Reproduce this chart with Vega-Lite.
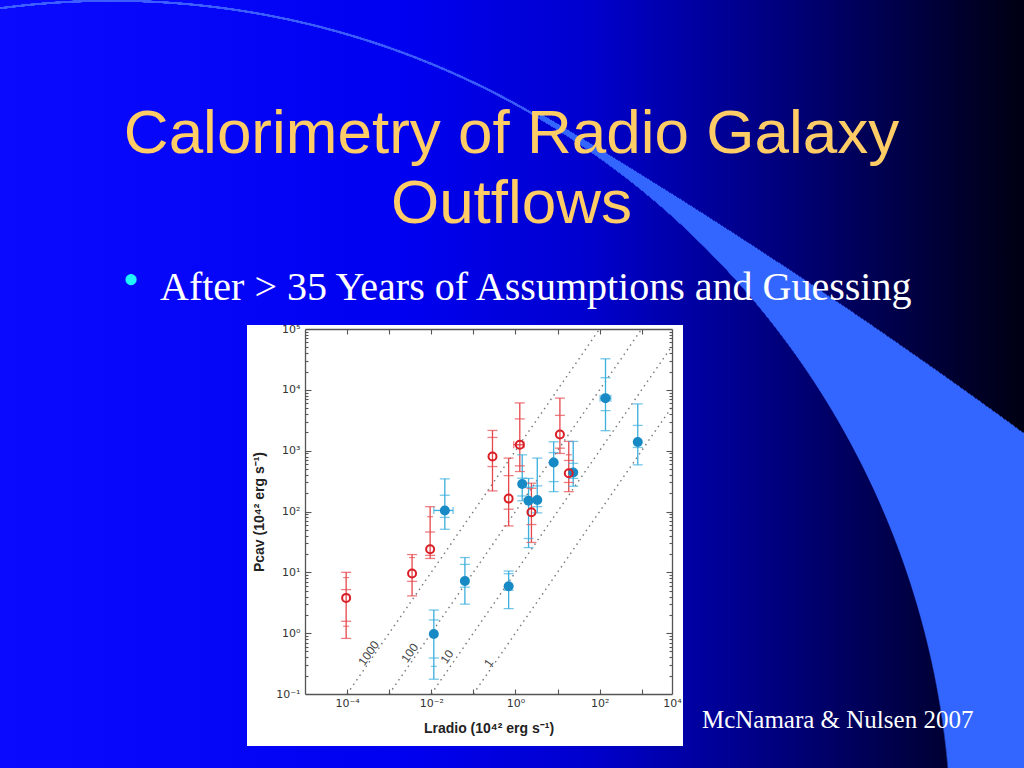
{
  "$schema": "https://vega.github.io/schema/vega-lite/v6.json",
  "width": 367,
  "height": 365,
  "autosize": {"type": "none"},
  "padding": {"left": 305, "top": 329, "right": 352, "bottom": 74},
  "background": "#0000e6",
  "title": {
    "text": ["Calorimetry of Radio Galaxy", "Outflows"],
    "anchor": "middle",
    "orient": "top",
    "offset": -236,
    "dx": 23,
    "font": "Liberation Sans",
    "fontSize": 62,
    "fontWeight": "normal",
    "color": "#ffcc66",
    "lineHeight": 70
  },
  "config": {
    "view": {"stroke": null},
    "axis": {
      "grid": false,
      "domainColor": "#555555",
      "domainWidth": 1.3,
      "tickColor": "#555555",
      "tickWidth": 1.1,
      "labelFont": "DejaVu Sans",
      "labelFontSize": 11,
      "labelColor": "#333333",
      "titleFont": "Liberation Sans",
      "titleFontSize": 14,
      "titleFontWeight": "bold",
      "titleColor": "#222222",
      "labelFlush": false,
      "labelOverlap": false
    }
  },
  "datasets": {
    "pts": [
      {"s": "r", "x": 0.000095, "y": 3.8, "lo": 0.82, "hi": 10, "lo2": 1.57, "hi2": 5.2, "lo3": 1.3, "hi3": 8.2},
      {"s": "r", "x": 0.0035, "y": 9.6, "lo": 4.1, "hi": 19.6, "lo2": 7.1, "hi3": 17.5},
      {"s": "r", "x": 0.0094, "y": 24, "lo": 16.9, "hi": 120, "lo2": 19, "hi2": 46, "hi3": 82},
      {"s": "r", "x": 0.285, "y": 800, "lo": 218, "hi": 2150, "lo2": 548, "hi2": 1650},
      {"s": "r", "x": 0.69, "y": 163, "lo": 58, "hi": 754, "lo2": 109, "hi2": 389},
      {"s": "r", "x": 1.27, "y": 1250, "lo": 454, "hi": 6100, "lo2": 563, "hi2": 3330, "xlo": 0.91, "xhi": 1.6},
      {"s": "r", "x": 2.4, "y": 97, "lo": 31, "hi": 292, "lo2": 61, "hi2": 241},
      {"s": "r", "x": 11.4, "y": 1850, "lo": 900, "hi": 7300, "lo2": 1100, "hi2": 3800},
      {"s": "r", "x": 18.5, "y": 426, "lo": 212, "hi": 1420, "lo2": 300, "hi2": 690, "hi3": 856},
      {"s": "b", "x": 0.0115, "y": 0.97, "lo": 0.175, "hi": 2.4, "lo2": 0.39, "hi2": 1.65, "lo3": 0.285},
      {"s": "b", "x": 0.021, "y": 104, "lo": 51, "hi": 344, "lo2": 80, "hi2": 185, "xlo": 0.0115, "xhi": 0.033},
      {"s": "b", "x": 0.063, "y": 7.2, "lo": 3.0, "hi": 17.5, "lo2": 5.7, "hi2": 13.5},
      {"s": "b", "x": 0.69, "y": 5.9, "lo": 2.53, "hi": 10.5, "lo2": 5.07, "hi2": 9.5},
      {"s": "b", "x": 1.45, "y": 283, "lo": 150, "hi": 855, "lo2": 180, "hi2": 353},
      {"s": "b", "x": 2.05, "y": 150, "lo": 25.5, "hi": 350, "lo2": 36, "hi2": 250},
      {"s": "b", "x": 3.3, "y": 155, "lo": 95, "hi": 755, "lo2": 120, "hi2": 264},
      {"s": "b", "x": 8.1, "y": 640, "lo": 212, "hi": 1400, "lo2": 310, "hi2": 930},
      {"s": "b", "x": 23.6, "y": 437, "lo": 260, "hi": 1420, "lo2": 350, "hi2": 620},
      {"s": "b", "x": 138, "y": 7300, "lo": 2130, "hi": 32400, "lo2": 4550, "hi2": 15800, "xlo": 103, "xhi": 185},
      {"s": "b", "x": 807, "y": 1387, "lo": 585, "hi": 5870, "lo2": 1130, "hi2": 2600}
    ],
    "dl": [
      {"k": "1000", "x": 0.0001, "y": 0.1}, {"k": "1000", "x": 100, "y": 100000},
      {"k": "100", "x": 0.001, "y": 0.1}, {"k": "100", "x": 1000, "y": 100000},
      {"k": "10", "x": 0.01, "y": 0.1}, {"k": "10", "x": 5250, "y": 52500},
      {"k": "1", "x": 0.1, "y": 0.1}, {"k": "1", "x": 5250, "y": 5250}
    ],
    "lab": [
      {"t": "1000", "x": 0.000326, "y": 0.467},
      {"t": "100", "x": 0.00308, "y": 0.472},
      {"t": "10", "x": 0.0237, "y": 0.41},
      {"t": "1", "x": 0.231, "y": 0.323}
    ]
  },
  "resolve": {"axis": {"x": "independent", "y": "independent"}},
  "layer": [
    {
      "data": {"values": [{}]},
      "mark": {"type": "rect", "fill": {"gradient": "linear", "x1": 0, "y1": 0, "x2": 1, "y2": 0, "stops": [
        {"offset": 0, "color": "#0a0aff"}, {"offset": 0.4, "color": "#0000f0"}, {"offset": 0.58, "color": "#0000cc"},
        {"offset": 0.7, "color": "#000098"}, {"offset": 0.85, "color": "#000055"}, {"offset": 1, "color": "#000012"}]}},
      "encoding": {
        "x": {"datum": 5.662e-13, "type": "quantitative", "scale": {"type": "log", "domain": [0.00001, 5250], "nice": false},
          "axis": {"orient": "bottom", "zindex": 5, "values": [0.0001, 0.01, 1, 100, 5250],
            "labelExpr": "datum.value < 0.001 ? '10⁻⁴' : datum.value < 0.1 ? '10⁻²' : datum.value < 10 ? '10⁰' : datum.value < 1000 ? '10²' : '10⁴'",
            "ticks": false, "tickSize": 0, "labelPadding": 3, "domain": true, "title": "Lradio (10⁴² erg s⁻¹)", "titlePadding": 13}},
        "x2": {"datum": 1.2127e12},
        "y": {"datum": 2.5624e10, "type": "quantitative", "scale": {"type": "log", "domain": [0.1, 100000], "nice": false},
          "axis": {"orient": "left", "zindex": 5, "values": [0.1, 1, 10, 100, 1000, 10000, 100000],
            "labelExpr": "datum.value < 0.5 ? '10⁻¹' : datum.value < 5 ? '10⁰' : datum.value < 50 ? '10¹' : datum.value < 500 ? '10²' : datum.value < 5000 ? '10³' : datum.value < 50000 ? '10⁴' : '10⁵'",
            "ticks": false, "tickSize": 0, "labelPadding": 5, "domain": true, "title": "Pcav (10⁴² erg s⁻¹)", "titlePadding": 9}},
        "y2": {"datum": 0.006069}
      }
    },
    {
      "data": {"values": [{}]},
      "mark": {"type": "rect", "fill": {"gradient": "radial", "x1": 0.1094, "y1": 0.9453, "r1": 0.8184, "x2": -2.4666, "y2": 5.2756, "r2": 5.8623, "stops": [
        {"offset": 0, "color": "rgba(51,102,255,0)"}, {"offset": 0.0008, "color": "#3366ff"},
        {"offset": 0.9992, "color": "#3366ff"}, {"offset": 1, "color": "rgba(51,102,255,0)"}]}},
      "encoding": {
        "x": {"datum": 5.662e-13, "type": "quantitative", "scale": {"type": "log", "domain": [0.00001, 5250], "nice": false},
          "axis": {"orient": "bottom", "zindex": 5, "values": [0.0001, 0.001, 0.01, 0.1, 1, 10, 100, 1000], "tickSize": -5, "labels": false, "domain": false, "title": null}},
        "x2": {"datum": 1.2127e12},
        "y": {"datum": 2.5624e10, "type": "quantitative", "scale": {"type": "log", "domain": [0.1, 100000], "nice": false},
          "axis": {"orient": "left", "zindex": 5, "values": [1, 10, 100, 1000, 10000], "tickSize": -6, "labels": false, "domain": false, "title": null}},
        "y2": {"datum": 0.006069}
      }
    },
    {
      "data": {"values": [{}]},
      "mark": {"type": "rect", "fill": {"gradient": "linear", "x1": 0, "y1": 0, "x2": 1, "y2": 0, "stops": [
        {"offset": 0, "color": "#0a0aff"}, {"offset": 0.7585, "color": "#0000f0"}, {"offset": 1, "color": "#0000d6"}]}},
      "encoding": {
        "x": {"datum": 5.662e-13, "type": "quantitative", "scale": {"type": "log", "domain": [0.00001, 5250], "nice": false}, "axis": null},
        "x2": {"datum": 3.836},
        "y": {"datum": 2.5624e10, "type": "quantitative", "scale": {"type": "log", "domain": [0.1, 100000], "nice": false}, "axis": null},
        "y2": {"datum": 0.006069}
      }
    },
    {
      "data": {"values": [{}]},
      "mark": {"type": "rect", "fill": {"gradient": "radial", "x1": 0.29427, "y1": 1.09375, "r1": 1.09115, "x2": 0.29427, "y2": 1.09375, "r2": 1.0944, "stops": [
        {"offset": 0, "color": "rgba(70,110,255,0)"}, {"offset": 0.05, "color": "rgba(70,110,255,0.85)"},
        {"offset": 0.95, "color": "rgba(70,110,255,0.85)"}, {"offset": 1, "color": "rgba(70,110,255,0)"}]}},
      "encoding": {
        "x": {"datum": 5.662e-13, "type": "quantitative", "scale": {"type": "log", "domain": [0.00001, 5250], "nice": false}, "axis": null},
        "x2": {"datum": 3.836},
        "y": {"datum": 2.5624e10, "type": "quantitative", "scale": {"type": "log", "domain": [0.1, 100000], "nice": false}, "axis": null},
        "y2": {"datum": 0.006069}
      }
    },
    {
      "data": {"values": [{}]},
      "mark": {"type": "rect", "fill": "#ffffff"},
      "encoding": {
        "x": {"datum": 4.187e-7, "type": "quantitative", "scale": {"type": "log", "domain": [0.00001, 5250], "nice": false},
          "axis": {"orient": "top", "zindex": 5, "values": [0.0001, 0.001, 0.01, 0.1, 1, 10, 100, 1000], "tickSize": -5, "labels": false, "domain": true, "title": null}},
        "x2": {"datum": 9585},
        "y": {"datum": 116370, "type": "quantitative", "scale": {"type": "log", "domain": [0.1, 100000], "nice": false},
          "axis": {"orient": "left", "zindex": 5, "values": [0.2,0.3,0.4,0.5,0.6,0.7,0.8,0.9,2,3,4,5,6,7,8,9,20,30,40,50,60,70,80,90,200,300,400,500,600,700,800,900,2000,3000,4000,5000,6000,7000,8000,9000,20000,30000,40000,50000,60000,70000,80000,90000], "tickSize": -3, "labels": false, "domain": false, "title": null}},
        "y2": {"datum": 0.01396}
      }
    },
    {
      "data": {"name": "dl"},
      "mark": {"type": "line", "strokeDash": [1.5, 4], "color": "#777777", "strokeWidth": 1.4},
      "encoding": {
        "x": {"field": "x", "type": "quantitative", "scale": {"type": "log", "domain": [0.00001, 5250], "nice": false}, "axis": null},
        "y": {"field": "y", "type": "quantitative", "scale": {"type": "log", "domain": [0.1, 100000], "nice": false},
          "axis": {"orient": "right", "zindex": 5, "values": [1, 10, 100, 1000, 10000], "tickSize": -6, "labels": false, "domain": true, "title": null}},
        "detail": {"field": "k"}
      }
    },
    {
      "data": {"name": "lab"},
      "mark": {"type": "text", "angle": 305, "fontSize": 12, "font": "Liberation Sans", "color": "#444444"},
      "encoding": {
        "x": {"field": "x", "type": "quantitative", "scale": {"type": "log", "domain": [0.00001, 5250], "nice": false}, "axis": null},
        "y": {"field": "y", "type": "quantitative", "scale": {"type": "log", "domain": [0.1, 100000], "nice": false},
          "axis": {"orient": "right", "zindex": 5, "values": [0.2,0.3,0.4,0.5,0.6,0.7,0.8,0.9,2,3,4,5,6,7,8,9,20,30,40,50,60,70,80,90,200,300,400,500,600,700,800,900,2000,3000,4000,5000,6000,7000,8000,9000,20000,30000,40000,50000,60000,70000,80000,90000], "tickSize": -3, "labels": false, "domain": false, "title": null}},
        "text": {"field": "t"}
      }
    },
    {
      "data": {"name": "pts"},
      "mark": {"type": "rule", "strokeWidth": 1.3},
      "encoding": {
        "x": {"field": "x", "type": "quantitative", "scale": {"type": "log", "domain": [0.00001, 5250], "nice": false}, "axis": null},
        "y": {"field": "lo", "type": "quantitative", "scale": {"type": "log", "domain": [0.1, 100000], "nice": false}, "axis": null},
        "y2": {"field": "hi"},
        "color": {"field": "s", "type": "nominal", "scale": {"domain": ["r", "b"], "range": ["#e5474c", "#3aaedd"]}, "legend": null}
      }
    },
    {
      "data": {"name": "pts"},
      "transform": [{"filter": "datum.xlo != null"}],
      "mark": {"type": "rule", "strokeWidth": 1.3},
      "encoding": {
        "x": {"field": "xlo", "type": "quantitative", "scale": {"type": "log", "domain": [0.00001, 5250], "nice": false}, "axis": null},
        "x2": {"field": "xhi"},
        "y": {"field": "y", "type": "quantitative", "scale": {"type": "log", "domain": [0.1, 100000], "nice": false}, "axis": null},
        "color": {"field": "s", "type": "nominal", "scale": {"domain": ["r", "b"], "range": ["#e5474c", "#3aaedd"]}, "legend": null}
      }
    },
    {
      "data": {"name": "pts"},
      "transform": [{"fold": ["lo", "hi", "lo2", "hi2"], "as": ["k", "v"]}, {"filter": "datum.v != null"}],
      "mark": {"type": "tick", "orient": "horizontal", "size": 10, "thickness": 1.3},
      "encoding": {
        "x": {"field": "x", "type": "quantitative", "scale": {"type": "log", "domain": [0.00001, 5250], "nice": false}, "axis": null},
        "y": {"field": "v", "type": "quantitative", "scale": {"type": "log", "domain": [0.1, 100000], "nice": false}, "axis": null},
        "color": {"field": "s", "type": "nominal", "scale": {"domain": ["r", "b"], "range": ["#e5474c", "#3aaedd"]}, "legend": null}
      }
    },
    {
      "data": {"name": "pts"},
      "transform": [{"fold": ["lo3", "hi3"], "as": ["k", "v"]}, {"filter": "datum.v != null"}],
      "mark": {"type": "tick", "orient": "horizontal", "size": 6, "thickness": 1.2},
      "encoding": {
        "x": {"field": "x", "type": "quantitative", "scale": {"type": "log", "domain": [0.00001, 5250], "nice": false}, "axis": null},
        "y": {"field": "v", "type": "quantitative", "scale": {"type": "log", "domain": [0.1, 100000], "nice": false}, "axis": null},
        "color": {"field": "s", "type": "nominal", "scale": {"domain": ["r", "b"], "range": ["#e5474c", "#3aaedd"]}, "legend": null}
      }
    },
    {
      "data": {"name": "pts"},
      "transform": [{"fold": ["xlo", "xhi"], "as": ["k", "v"]}, {"filter": "datum.v != null"}],
      "mark": {"type": "tick", "orient": "vertical", "size": 7, "thickness": 1.3},
      "encoding": {
        "x": {"field": "v", "type": "quantitative", "scale": {"type": "log", "domain": [0.00001, 5250], "nice": false}, "axis": null},
        "y": {"field": "y", "type": "quantitative", "scale": {"type": "log", "domain": [0.1, 100000], "nice": false}, "axis": null},
        "color": {"field": "s", "type": "nominal", "scale": {"domain": ["r", "b"], "range": ["#e5474c", "#3aaedd"]}, "legend": null}
      }
    },
    {
      "data": {"name": "pts"},
      "transform": [{"filter": "datum.s == 'b'"}],
      "mark": {"type": "circle", "color": "#1789c4", "opacity": 1, "size": 100},
      "encoding": {
        "x": {"field": "x", "type": "quantitative", "scale": {"type": "log", "domain": [0.00001, 5250], "nice": false}, "axis": null},
        "y": {"field": "y", "type": "quantitative", "scale": {"type": "log", "domain": [0.1, 100000], "nice": false}, "axis": null}
      }
    },
    {
      "data": {"name": "pts"},
      "transform": [{"filter": "datum.s == 'r'"}],
      "mark": {"type": "point", "shape": "circle", "filled": false, "stroke": "#d91e26", "strokeWidth": 2, "size": 64, "opacity": 1},
      "encoding": {
        "x": {"field": "x", "type": "quantitative", "scale": {"type": "log", "domain": [0.00001, 5250], "nice": false}, "axis": null},
        "y": {"field": "y", "type": "quantitative", "scale": {"type": "log", "domain": [0.1, 100000], "nice": false}, "axis": null}
      }
    },
    {
      "data": {"values": [{}]},
      "mark": {"type": "text", "text": "•", "align": "center", "baseline": "middle", "font": "Liberation Serif", "fontSize": 46, "color": "#22f4ff"},
      "encoding": {
        "x": {"datum": 7.336e-10, "type": "quantitative", "scale": {"type": "log", "domain": [0.00001, 5250], "nice": false}, "axis": null},
        "y": {"datum": 615200, "type": "quantitative", "scale": {"type": "log", "domain": [0.1, 100000], "nice": false}, "axis": null}
      }
    },
    {
      "data": {"values": [{}]},
      "mark": {"type": "text", "text": "After > 35 Years of Assumptions and Guessing", "align": "left", "baseline": "alphabetic", "font": "Liberation Serif", "fontSize": 40, "color": "#ffffff"},
      "encoding": {
        "x": {"datum": 3.587e-9, "type": "quantitative", "scale": {"type": "log", "domain": [0.00001, 5250], "nice": false}, "axis": null},
        "y": {"datum": 299700, "type": "quantitative", "scale": {"type": "log", "domain": [0.1, 100000], "nice": false}, "axis": null}
      }
    },
    {
      "data": {"values": [{}]},
      "mark": {"type": "text", "text": "McNamara & Nulsen 2007", "align": "left", "baseline": "alphabetic", "font": "Liberation Serif", "fontSize": 25, "color": "#ffffff"},
      "encoding": {
        "x": {"datum": 27000, "type": "quantitative", "scale": {"type": "log", "domain": [0.00001, 5250], "nice": false}, "axis": null},
        "y": {"datum": 0.0276, "type": "quantitative", "scale": {"type": "log", "domain": [0.1, 100000], "nice": false}, "axis": null}
      }
    }
  ]
}
